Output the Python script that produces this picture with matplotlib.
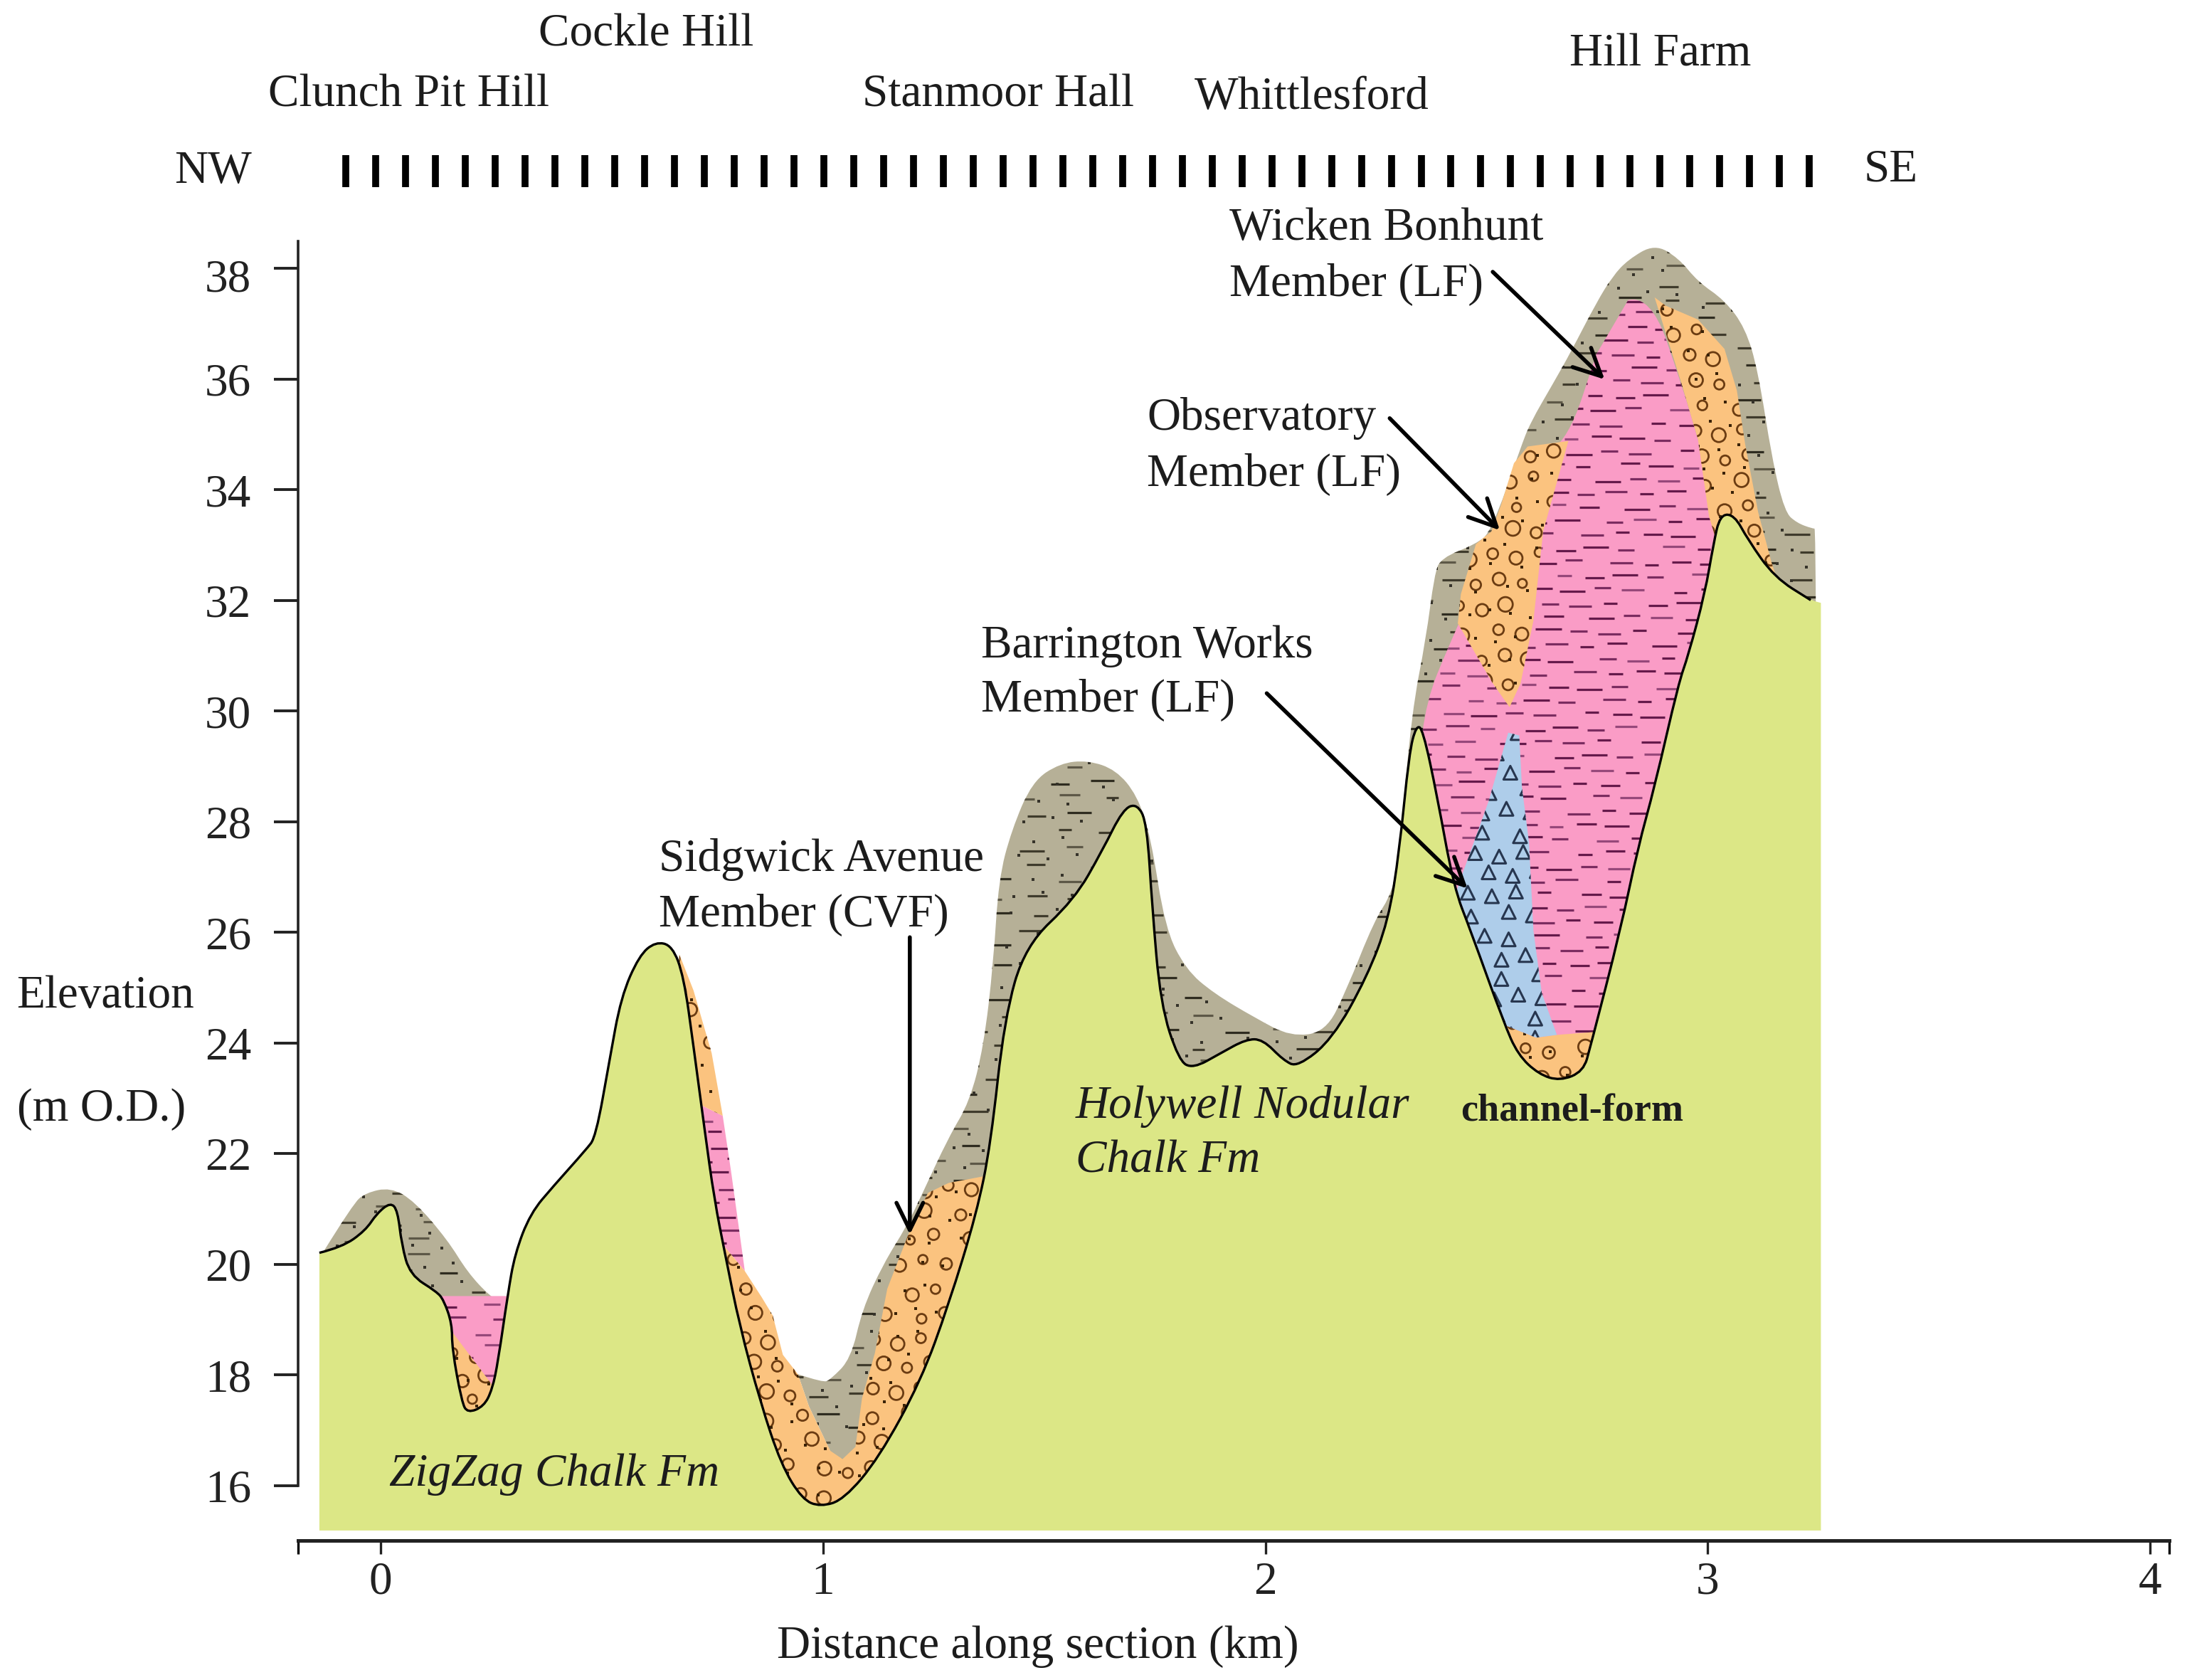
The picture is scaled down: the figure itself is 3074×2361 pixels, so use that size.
import numpy as np
import matplotlib
matplotlib.use("Agg")
from matplotlib import pyplot as plt
from matplotlib.path import Path
from matplotlib.patches import PathPatch
from matplotlib.transforms import ScaledTranslation

plt.rcParams['font.family'] = ['Liberation Serif', 'DejaVu Serif']

# outlines: distance (km), elevation (m O.D.)
chalk_km = [-0.139, -0.088, -0.035, -0.009, 0.022, 0.038, 0.047, 0.066, 0.126, 0.142, 0.161, 0.161, 0.183, 0.196,
            0.233, 0.252, 0.265, 0.287, 0.303, 0.338, 0.391, 0.464, 0.486, 0.517, 0.543, 0.584, 0.621, 0.659,
            0.685, 0.707, 0.732, 0.754, 0.779, 0.811, 0.858, 0.905, 0.953, 0.994, 1.047, 1.126, 1.221, 1.284,
            1.347, 1.379, 1.410, 1.457, 1.568, 1.631, 1.678, 1.710, 1.732, 1.744, 1.763, 1.804, 1.836, 1.899,
            1.956, 1.994, 2.041, 2.073, 2.151, 2.230, 2.278, 2.303, 2.325, 2.341, 2.356, 2.388, 2.426, 2.464,
            2.539, 2.571, 2.618, 2.666, 2.719, 2.735, 2.804, 2.842, 2.880, 2.934, 2.956, 2.994, 3.013, 3.028,
            3.060, 3.091, 3.151, 3.233, 3.256]
chalk_m = [20.20, 20.30, 20.60, 20.91, 21.11, 20.96, 20.35, 19.80, 19.50, 19.35, 18.92, 18.47, 17.51, 17.31,
           17.43, 17.74, 18.24, 19.45, 20.18, 20.91, 21.41, 22.06, 22.29, 23.67, 24.81, 25.56, 25.81, 25.74,
           25.18, 23.92, 22.42, 21.16, 20.15, 18.89, 17.51, 16.38, 15.75, 15.62, 15.75, 16.50, 17.89, 19.27,
           20.91, 22.16, 24.43, 25.74, 26.57, 27.45, 28.20, 28.30, 27.95, 26.44, 24.68, 23.67, 23.52, 23.80,
           24.05, 24.05, 23.67, 23.55, 24.05, 25.18, 26.19, 27.45, 29.21, 29.71, 29.64, 28.45, 26.79, 26.01,
           24.35, 23.77, 23.42, 23.30, 23.47, 23.92, 26.06, 27.50, 28.60, 30.47, 30.97, 32.10, 32.98, 33.51,
           33.51, 33.06, 32.38, 31.97, 31.92]
chalk_base = 15.19

head_west_km = [-0.129, -0.063, -0.035, 0.022, 0.076, 0.151, 0.196, 0.246, 0.275, 0.142, 0.085, -0.041]
head_west_m = [20.23, 21.08, 21.28, 21.38, 21.13, 20.43, 19.85, 19.42, 19.30, 19.20, 18.64, 19.40]

head_km = [0.943, 1.000, 1.016, 1.063, 1.088, 1.136, 1.189, 1.221, 1.284, 1.331, 1.363, 1.385, 1.397, 1.426,
           1.473, 1.536, 1.599, 1.662, 1.710, 1.741, 1.773, 1.820, 1.883, 1.978, 2.057, 2.136, 2.183, 2.246,
           2.287, 2.303, 2.331, 2.363, 2.382, 2.397, 2.476, 2.511, 2.577, 2.599, 2.650, 2.691, 2.748, 2.785,
           2.820, 2.880, 2.934, 2.978, 3.038, 3.085, 3.114, 3.145, 3.174, 3.202, 3.237, 3.246,
           3.246, 1.158, 1.044, 1.016, 0.968]
head_m = [18.01, 17.86, 17.91, 18.29, 19.17, 20.00, 20.68, 21.21, 22.29, 22.92, 23.92, 25.43, 26.94, 27.82,
          28.70, 29.03, 29.08, 28.91, 28.45, 27.70, 26.06, 25.31, 24.88, 24.43, 24.10, 24.18, 24.93, 26.19,
          26.69, 27.45, 29.96, 31.27, 32.43, 32.73, 32.98, 33.21, 34.72, 35.17, 35.87, 36.45, 37.33, 37.81,
          38.11, 38.39, 38.14, 37.71, 37.38, 36.88, 36.10, 34.54, 33.56, 33.36, 33.26, 33.26,
          18.00, 18.00, 16.13, 16.63, 17.43]

wicken_km = [2.820, 2.871, 2.943, 2.978, 3.028, 3.019, 2.798, 2.577, 2.356, 2.341, 2.435, 2.609, 2.685, 2.748]
wicken_m = [37.38, 37.48, 35.82, 34.87, 33.48, 30.21, 22.92, 22.92, 26.69, 29.71, 31.55, 34.49, 34.87, 36.40]
wicken_pit_km = [0.136, 0.287, 0.287, 0.233, 0.148]
wicken_pit_m = [19.42, 19.42, 17.64, 17.26, 18.64]
wicken_flank_km = [0.710, 0.773, 0.792, 0.823, 0.773, 0.716]
wicken_flank_m = [22.92, 22.67, 21.66, 19.87, 20.35, 21.41]

obs_top_km = [2.476, 2.511, 2.533, 2.562, 2.593, 2.685, 2.628, 2.606, 2.577, 2.552, 2.514, 2.435, 2.442]
obs_top_m = [32.98, 33.21, 33.69, 34.44, 34.74, 34.84, 33.21, 31.60, 30.47, 30.04, 30.47, 31.55, 32.08]
obs_right_km = [2.880, 2.905, 2.978, 3.038, 3.066, 3.085, 3.114, 3.145, 3.158, 3.050, 3.003, 2.978, 2.943]
obs_right_m = [37.43, 37.28, 37.03, 36.50, 35.75, 34.77, 33.56, 32.63, 32.33, 32.23, 33.48, 34.87, 35.82]
obs_base_km = [2.543, 2.612, 2.659, 2.741, 2.767, 2.640, 2.530]
obs_base_m = [24.30, 24.08, 24.13, 24.18, 23.67, 22.92, 23.67]
obs_pit_km = [0.155, 0.262, 0.211, 0.148]
obs_pit_m = [18.84, 17.71, 17.01, 17.38]
obs_flank_km = [0.675, 0.707, 0.748, 0.773, 0.710, 0.669]
obs_flank_m = [25.58, 24.93, 23.80, 22.67, 22.92, 24.68]
sidgwick_km = [0.773, 0.823, 0.861, 0.886, 0.909, 0.943, 0.968, 1.016, 1.044, 1.073, 1.088, 1.117, 1.145, 1.196,
               1.237, 1.284, 1.363, 1.379, 1.158, 0.937, 0.779]
sidgwick_m = [20.35, 19.87, 19.40, 19.07, 18.36, 18.01, 17.43, 16.63, 16.48, 16.70, 17.58, 18.39, 19.55, 20.60,
              21.28, 21.46, 21.58, 20.15, 15.40, 15.40, 18.89]

barrington_km = [2.549, 2.574, 2.580, 2.596, 2.606, 2.625, 2.659, 2.612, 2.543, 2.483, 2.420, 2.448, 2.505]
barrington_m = [29.58, 29.53, 28.60, 27.60, 26.01, 24.88, 24.13, 24.08, 24.30, 25.18, 26.44, 27.09, 28.35]

y_ticks = [16, 18, 20, 22, 24, 26, 28, 30, 32, 34, 36, 38]
x_ticks = [0, 1, 2, 3, 4]

# borehole line along the top
borehole_start, borehole_end, borehole_count = -0.079, 3.230, 50

# member name lines: start (km, m), tip (km, m)
arrows = [((2.514, 37.89), (2.767, 35.95)),
          ((2.281, 35.25), (2.530, 33.23)),
          ((2.003, 30.29), (2.457, 26.77)),
          ((1.196, 25.89), (1.196, 20.53))]

CHALK = '#DCE786'
HEAD = '#B6B097'
WICKEN = '#FA9CC6'
OBS = '#FBC37F'
BLUE = '#AECDEA'

# picture size in the units I measured in
W, H = 1567.6, 1204.0
# outlines were read with a slightly off scale, the ticks are 39.66 px per m
ELEV_FIX = 39.75 / 39.66


def elev(m):
    return 16 + (np.asarray(m, dtype=float) - 16) * ELEV_FIX


def frac(a):
    return a - np.floor(a)


# Golden ratio lattice so the fill looks hand drawn but stays the same each run
def lattice(verts, dx, dy, seed=0.0):
    verts = np.array(verts)
    x0, y0 = verts.min(axis=0)
    x1, y1 = verts.max(axis=0)
    xs, ys = [], []
    for j, y in enumerate(np.arange(y0, y1 + dy, dy)):
        row = np.arange(x0 - dx, x1 + dx, dx) + dx * frac(j * 0.618 + seed)
        xs.extend(row)
        ys.extend([y] * len(row))
    xs = np.array(xs)
    ys = np.array(ys)
    k = np.arange(len(xs))
    xs = xs + dx * 0.5 * (frac(k * 0.7549 + seed) - 0.5)
    ys = ys + dy * 0.4 * (frac(k * 0.5698 + seed) - 0.5)
    return xs, ys, frac(k * 0.3819 + seed)


# rounded outline through the read points, drawn with quadratic curve segments
def curved_path(km, m, closed=False):
    pts = np.column_stack([km, m])
    verts = [pts[0]]
    codes = [Path.MOVETO]
    for i in range(1, len(pts) - 1):
        verts += [pts[i], (pts[i] + pts[i + 1]) / 2]
        codes += [Path.CURVE3, Path.CURVE3]
    verts.append(pts[-1])
    codes.append(Path.LINETO)
    if closed:
        verts.append(pts[0])
        codes.append(Path.CLOSEPOLY)
    return Path(verts, codes)


def dashes(ax, verts, clip, dx, dy, colors, short, long_, z, seed=0.0):
    xs, ys, u = lattice(verts, dx, dy, seed)
    sizes = (short + (long_ - short) * u) ** 2
    cols = [colors[int(v * 7) % len(colors)] for v in u]
    coll = ax.scatter(xs, ys, s=sizes, marker='_', c=cols, linewidths=2.3, zorder=z)
    coll.set_clip_path(clip)


def dots(ax, verts, clip, dx, dy, color, size, z, seed=0.0):
    xs, ys, _ = lattice(verts, dx, dy, seed)
    coll = ax.scatter(xs, ys, s=size, marker='s', c=color, linewidths=0, zorder=z)
    coll.set_clip_path(clip)


def rings(ax, verts, clip, dx, dy, color, z, seed=0.0):
    xs, ys, u = lattice(verts, dx, dy, seed)
    coll = ax.scatter(xs, ys, s=(9 + 6 * u) ** 2, marker='o', facecolors='none', edgecolors=color,
                      linewidths=2.0, zorder=z)
    coll.set_clip_path(clip)


def layer(ax, km, m, color, z, curved=False):
    y = elev(m)
    verts = list(zip(km, y))
    if curved:
        path = curved_path(km, y, closed=True)
    else:
        path = Path(verts + [verts[0]], closed=True)
    patch = PathPatch(path, facecolor=color, edgecolor='none', zorder=z)
    ax.add_patch(patch)
    return verts, patch


def head_layer(ax, km, m, z, seed):
    verts, patch = layer(ax, km, m, HEAD, z, curved=True)
    dashes(ax, verts, patch, 0.11, 0.30, ['#3f3b2c', '#5d5847', '#2f2c20'], 12, 27, z + 0.1, seed)
    dots(ax, verts, patch, 0.075, 0.33, '#36332a', 12, z + 0.1, seed + 0.3)


def wicken_layer(ax, km, m, z, seed, curved=False):
    verts, patch = layer(ax, km, m, WICKEN, z, curved=curved)
    dashes(ax, verts, patch, 0.078, 0.25, ['#651a4b', '#96487a', '#7b2c60'], 12, 27, z + 0.1, seed)


def obs_layer(ax, km, m, z, seed):
    verts, patch = layer(ax, km, m, OBS, z)
    rings(ax, verts, patch, 0.06, 0.46, '#6b3c12', z + 0.1, seed)
    dots(ax, verts, patch, 0.052, 0.42, '#3a2208', 11, z + 0.1, seed + 0.4)


fig = plt.figure(figsize=(30.74, 23.61), dpi=100)
ax = fig.add_axes([213.7 / W, 1 - 1104 / H, (1555 - 213.7) / W, (1104 - 173) / H])
ax.patch.set_visible(False)
ax.set_xlim(-0.187, 4.044)
ax.set_ylim(15.01, 38.49)

head_layer(ax, head_west_km, head_west_m, 1, 0.1)
head_layer(ax, head_km, head_m, 1, 0.2)
wicken_layer(ax, wicken_pit_km, wicken_pit_m, 2, 0.3)
wicken_layer(ax, wicken_flank_km, wicken_flank_m, 2, 0.45)
wicken_layer(ax, wicken_km, wicken_m, 2, 0.6, curved=True)
obs_layer(ax, obs_pit_km, obs_pit_m, 3, 0.15)
obs_layer(ax, obs_flank_km, obs_flank_m, 3, 0.25)
obs_layer(ax, sidgwick_km, sidgwick_m, 3, 0.35)
obs_layer(ax, obs_top_km, obs_top_m, 3, 0.5)
obs_layer(ax, obs_right_km, obs_right_m, 3, 0.65)
obs_layer(ax, obs_base_km, obs_base_m, 3, 0.8)

verts, patch = layer(ax, barrington_km, barrington_m, BLUE, 4)
xs, ys, _ = lattice(verts, 0.062, 0.37, 0.2)
tri = ax.scatter(xs, ys, s=190, marker='^', facecolors='none', edgecolors='#27364f', linewidths=2.2, zorder=4.1)
tri.set_clip_path(patch)

# chalk goes on last so it hides the bottom of every deposit
surface = curved_path(chalk_km, elev(chalk_m))
chalk_verts = np.vstack([surface.vertices, [chalk_km[-1], chalk_base], [chalk_km[0], chalk_base], surface.vertices[0]])
chalk_codes = list(surface.codes) + [Path.LINETO, Path.LINETO, Path.CLOSEPOLY]
ax.add_patch(PathPatch(Path(chalk_verts, chalk_codes), facecolor=CHALK, edgecolor='none', zorder=5))
# black line stops just short of the right edge of the fill
line = curved_path(chalk_km[:-1], elev(chalk_m[:-1]))
ax.add_patch(PathPatch(line, facecolor='none', edgecolor='black', lw=2.4, zorder=6))

for start, tip in arrows:
    ax.annotate('', xy=(tip[0], elev(tip[1])), xytext=(start[0], elev(start[1])), zorder=7,
                arrowprops=dict(arrowstyle='->,head_length=0.55,head_width=0.27', mutation_scale=50,
                                color='black', lw=4.0, shrinkA=0, shrinkB=0))

marks = np.linspace(borehole_start, borehole_end, borehole_count)
ax.vlines(marks, 39.47, 40.05, color='black', lw=7, clip_on=False)

for side in ['top', 'right']:
    ax.spines[side].set_visible(False)
ax.spines['left'].set_bounds(16, 38.49)
ax.spines['left'].set_linewidth(2.6)
ax.spines['left'].set_color('#222222')
ax.spines['bottom'].set_linewidth(3.6)
ax.spines['bottom'].set_color('#222222')

ax.set_yticks(y_ticks)
ax.set_xticks(x_ticks)
ax.set_xticks([-0.187, 4.044], minor=True)
ax.tick_params(axis='y', length=24.5, width=2.8, pad=23, labelsize=47, colors='#222222')
ax.tick_params(axis='x', length=14, width=2.4, pad=7, labelsize=47, colors='#222222')
ax.tick_params(axis='x', which='minor', length=14, width=2.4)

# the 38 sits a little low in the original
top_label = ax.get_yticklabels()[-1]
top_label.set_transform(top_label.get_transform() + ScaledTranslation(0, -0.09, fig.dpi_scale_trans))


def put(px, py, s, **kw):
    fig.text(px / W, 1 - (py + 3) / H, s, va='center', ha=kw.pop('ha', 'left'), fontsize=kw.pop('fontsize', 47),
             color='#1c1c1c', **kw)


put(192, 65, 'Clunch Pit Hill')
put(386, 22, 'Cockle Hill')
put(618, 65, 'Stanmoor Hall')
put(856, 67, 'Whittlesford')
put(1125, 36, 'Hill Farm')
put(125, 120, 'NW')
put(1336, 119, 'SE')
put(881, 161, 'Wicken Bonhunt')
put(881, 201, 'Member (LF)')
put(822, 297, 'Observatory')
put(822, 337, 'Member (LF)')
put(703, 460, 'Barrington Works')
put(703, 499, 'Member (LF)')
put(472, 613, 'Sidgwick Avenue')
put(472, 653, 'Member (CVF)')
put(12, 711, 'Elevation')
put(12, 792, '(m O.D.)')
put(279, 1054, 'ZigZag Chalk Fm', style='italic')
put(771, 790, 'Holywell Nodular', style='italic')
put(771, 829, 'Chalk Fm', style='italic')
put(1047, 794, 'channel-form', fontweight='bold', fontsize=39)
put(744, 1177, 'Distance along section (km)', ha='center')

fig.savefig('out.png', dpi=100)
